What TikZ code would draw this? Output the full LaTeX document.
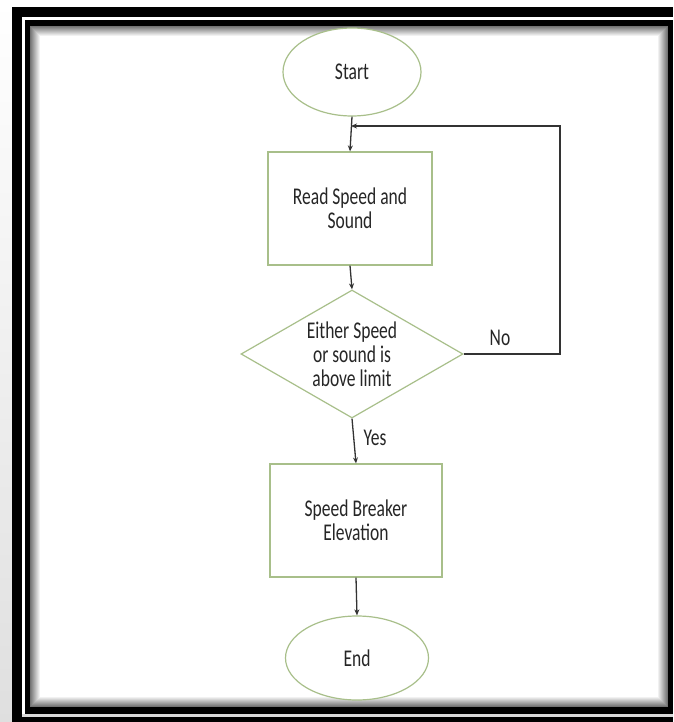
\documentclass[tikz,border=0pt]{standalone}
\usepackage{fontspec}
\newfontfamily\flowfont[FakeStretch=0.73]{Carlito}
\usetikzlibrary{shapes.geometric,arrows.meta}
\definecolor{shapeline}{HTML}{A8BF8A}
\definecolor{conn}{HTML}{333333}
\definecolor{txt}{HTML}{262626}
\begin{document}
\begin{tikzpicture}[x=1pt,y=-1pt,
  every node/.style={font=\flowfont\fontsize{24pt}{24pt}\selectfont, text=txt, align=center},
  term/.style={ellipse, draw=shapeline, line width=1.2pt, fill=white, inner sep=0pt},
  procbox/.style={rectangle, draw=shapeline, line width=1.2pt, fill=white, inner sep=0pt},
  decbox/.style={diamond, draw=shapeline, line width=1.2pt, fill=white, inner sep=0pt},
  conn/.style={draw=conn, line width=1.3pt, -{Stealth[length=6pt,width=5pt]}},
  plainconn/.style={draw=conn, line width=1.3pt}]
\useasboundingbox (0,0) rectangle (673,722);
% page background and left strip
\fill[white] (0,0) rectangle (673,722);
\shade[top color=white, bottom color=gray!25] (0,0) rectangle (12,722);
% frame
\fill[black] (12,7) rectangle (673,722);
\fill[white] (22,17) rectangle (673,714);
\fill[gray!30] (22,714) rectangle (673,717);
\fill[black] (25,20) rectangle (673,714);
\fill[white] (30,26) rectangle (668,707);
\foreach \i in {0,...,9} {
  \pgfmathsetmacro{\shd}{55-5.5*\i}
  \draw[black!\shd, line width=1pt] (30.5+\i,26.5+\i) rectangle (667.5-\i,706.5-\i);
}
% nodes
\node[term, minimum width=138pt, minimum height=88pt] (start) at (352,72) {Start};
\node[procbox, minimum width=164pt, minimum height=113pt] (read) at (350,208.5) {Read Speed and\\Sound};
\node[decbox, minimum width=222pt, minimum height=128pt] (dec) at (352,354) {};
\node at (dec.center) {Either Speed\\or sound is\\above limit};
\node[procbox, minimum width=172pt, minimum height=113pt] (elev) at (356,520.5) {Speed Breaker\\Elevation};
\node[term, minimum width=143pt, minimum height=84pt] (end) at (357,658) {End};
\node (no) at (500,338) {No};
\node[anchor=west] (yes) at (360,438) {Yes};
\coordinate (loopA) at (560,354);
\coordinate (loopB) at (560,126);
\coordinate (loopC) at (351,126);
% connectors
\draw[conn] (start.south) -- (read.north);
\draw[conn] (read.south) -- (dec.north);
\draw[conn] (dec.south) -- (elev.north);
\draw[conn] (elev.south) -- (end.north);
\draw[conn] (dec.east) -- (loopA) -- (loopB) -- (loopC);
\end{tikzpicture}
\end{document}
